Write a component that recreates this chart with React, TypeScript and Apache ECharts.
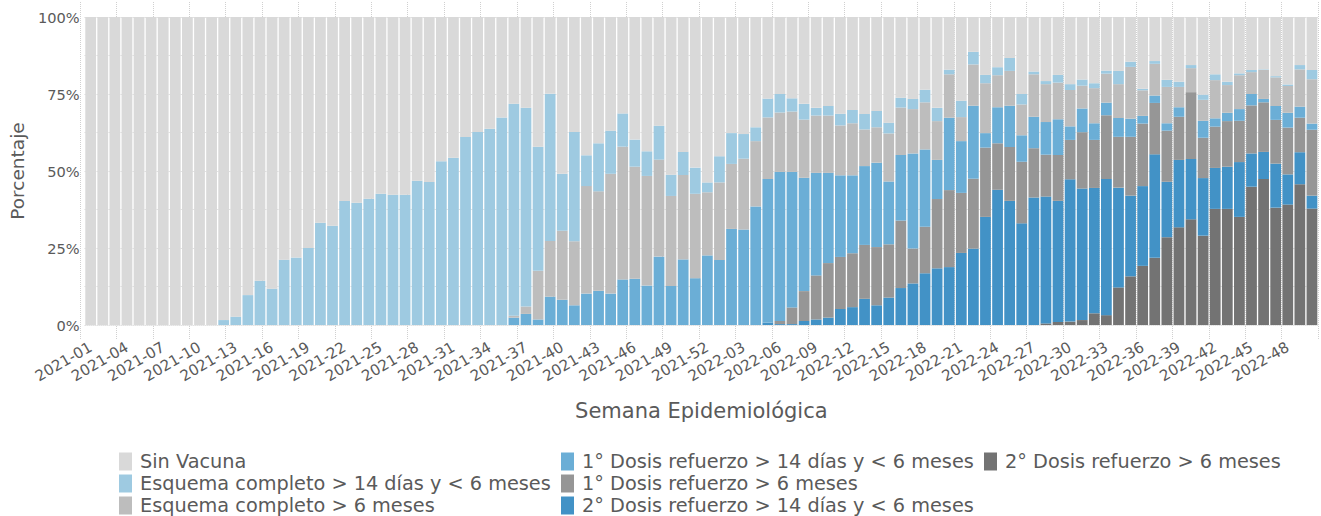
import React, { useEffect, useRef } from "react";
import * as echarts from "echarts";

const weeks = [
  "2021-01","2021-02","2021-03","2021-04","2021-05","2021-06","2021-07","2021-08","2021-09","2021-10",
  "2021-11","2021-12","2021-13","2021-14","2021-15","2021-16","2021-17","2021-18","2021-19","2021-20",
  "2021-21","2021-22","2021-23","2021-24","2021-25","2021-26","2021-27","2021-28","2021-29","2021-30",
  "2021-31","2021-32","2021-33","2021-34","2021-35","2021-36","2021-37","2021-38","2021-39","2021-40",
  "2021-41","2021-42","2021-43","2021-44","2021-45","2021-46","2021-47","2021-48","2021-49","2021-50",
  "2021-51","2021-52",
  "2022-01","2022-02","2022-03","2022-04","2022-05","2022-06","2022-07","2022-08","2022-09","2022-10",
  "2022-11","2022-12","2022-13","2022-14","2022-15","2022-16","2022-17","2022-18","2022-19","2022-20",
  "2022-21","2022-22","2022-23","2022-24","2022-25","2022-26","2022-27","2022-28","2022-29","2022-30",
  "2022-31","2022-32","2022-33","2022-34","2022-35","2022-36","2022-37","2022-38","2022-39","2022-40",
  "2022-41","2022-42","2022-43","2022-44","2022-45","2022-46","2022-47","2022-48","2022-49","2022-50",
];

const sinVacuna = [
  100,100,100,100,100,100,100,100,100,100,
  100,98.4,97.3,90.3,85.6,88.2,78.8,78.1,75.0,66.8,
  67.8,59.7,60.3,59.0,57.4,57.7,57.7,53.2,53.6,46.8,
  45.7,39.0,37.3,36.3,32.6,28.2,29.5,42.1,24.9,50.9,
  37.3,44.9,41.0,36.9,31.3,39.8,43.6,35.3,51.2,43.8,
  48.9,53.7,45.2,37.7,38.0,35.8,26.5,25.0,26.4,28.2,
  29.5,28.9,31.4,30.2,31.5,30.5,34.3,26.2,26.6,23.6,
  29.5,17.1,27.2,11.3,18.8,16.3,13.3,25.0,17.7,20.8,
  18.8,21.8,20.3,21.5,17.4,17.5,14.5,23.3,14.3,20.4,
  21.0,15.6,25.2,18.6,21.0,18.3,17.2,17.0,19.2,21.9,
  15.6,17.2,
];

const esquema14 = [
  0,0,0,0,0,0,0,0,0,0,
  0,1.6,2.7,9.7,14.4,11.8,21.2,21.9,25.0,33.2,
  32.2,40.3,39.7,41.0,42.6,42.3,42.3,46.8,46.4,53.2,
  54.3,61.0,62.7,63.7,67.4,68.8,64.5,40.3,47.8,18.5,
  35.5,10.0,15.6,14.0,10.8,8.8,8.0,11.0,6.9,7.5,
  8.5,3.2,8.5,10.0,8.0,4.5,6.1,6.0,4.3,5.1,
  2.5,3.1,3.8,4.3,5.0,5.3,3.5,3.2,3.3,4.1,
  4.3,1.5,5.3,4.1,2.7,2.6,4.2,3.4,0.9,1.0,
  2.5,1.9,2.0,1.6,1.0,4.3,1.7,0.5,0.9,2.3,
  1.7,1.0,1.7,1.9,1.1,0.6,0.7,0.2,0.4,0.5,
  1.4,3.0,
];

const esquema6 = [
  0,0,0,0,0,0,0,0,0,0,
  0,0,0,0,0,0,0,0,0,0,
  0,0,0,0,0,0,0,0,0,0,
  0,0,0,0,0,0.6,2.4,15.8,18.1,22.4,
  20.8,34.9,32.3,38.9,43.1,36.4,35.6,31.5,29.2,27.4,
  27.4,20.5,25.2,21.1,23.0,21.2,20.0,19.3,19.6,18.9,
  18.6,18.6,16.2,16.9,11.9,11.5,15.6,15.4,14.4,15.3,
  12.6,14.1,7.8,13.4,16.2,10.4,11.3,10.0,13.8,12.3,
  11.9,11.8,7.4,11.4,9.4,11.0,16.8,8.3,10.3,11.8,
  6.6,7.8,6.8,12.4,9.0,11.0,7.1,9.4,9.3,8.7,
  12.1,14.4,
];

const refuerzo1Menos6 = [
  0,0,0,0,0,0,0,0,0,0,
  0,0,0,0,0,0,0,0,0,0,
  0,0,0,0,0,0,0,0,0,0,
  0,0,0,0,0,2.4,3.6,1.8,9.2,8.2,
  6.4,10.2,11.1,10.2,14.8,15.0,12.8,22.2,12.7,21.3,
  15.2,22.6,21.1,31.2,31.0,38.5,46.6,48.4,44.0,36.8,
  33.3,29.3,26.5,25.3,25.6,27.4,20.4,21.3,30.9,25.1,
  12.7,23.5,16.8,23.7,4.7,11.7,13.4,8.6,10.2,10.6,
  11.6,4.4,7.7,5.4,4.1,6.1,5.9,2.5,2.4,2.4,
  3.1,0,5.5,2.7,2.7,3.8,3.7,1.1,4.5,4.8,
  3.6,2.0,
];

const refuerzo1Mas6 = [
  0,0,0,0,0,0,0,0,0,0,
  0,0,0,0,0,0,0,0,0,0,
  0,0,0,0,0,0,0,0,0,0,
  0,0,0,0,0,0,0,0,0,0,
  0,0,0,0,0,0,0,0,0,0,
  0,0,0,0,0,0,0,1.0,5.4,9.7,
  14.3,17.7,16.9,17.5,17.5,18.9,17.3,21.9,11.3,15.1,
  22.5,25.0,19.5,22.7,22.5,15.1,17.5,20.0,16.0,13.6,
  14.9,12.8,18.3,15.6,20.7,16.5,19.1,20.3,16.7,16.6,
  14.0,21.7,13.1,13.4,14.8,13.4,15.6,16.1,14.2,15.2,
  11.2,21.4,
];

const refuerzo2Menos6 = [
  0,0,0,0,0,0,0,0,0,0,
  0,0,0,0,0,0,0,0,0,0,
  0,0,0,0,0,0,0,0,0,0,
  0,0,0,0,0,0,0,0,0,0,
  0,0,0,0,0,0,0,0,0,0,
  0,0,0,0,0,0,0.8,0.3,0.3,1.3,
  1.8,2.4,5.2,5.8,8.5,6.4,8.9,12.0,13.5,16.8,
  18.4,18.8,23.4,24.8,35.1,43.9,40.3,33.0,41.4,41.2,
  39.3,46.2,42.7,40.7,44.2,32.4,26.2,25.9,33.6,18.0,
  21.9,19.6,18.7,13.3,13.7,17.8,10.8,8.8,14.3,9.8,
  10.4,4.2,
];

const refuerzo2Mas6 = [
  0,0,0,0,0,0,0,0,0,0,
  0,0,0,0,0,0,0,0,0,0,
  0,0,0,0,0,0,0,0,0,0,
  0,0,0,0,0,0,0,0,0,0,
  0,0,0,0,0,0,0,0,0,0,
  0,0,0,0,0,0,0,0,0,0,
  0,0,0,0,0,0,0,0,0,0,
  0,0,0,0,0,0,0,0,0,0.5,
  1.0,1.1,1.6,3.8,3.2,12.2,15.8,19.2,21.8,28.5,
  31.7,34.3,29.0,37.7,37.7,35.1,44.9,47.4,38.1,39.1,
  45.7,37.8,
];

const N_SIN = "Sin Vacuna";
const N_E14 = "Esquema completo > 14 días y < 6 meses";
const N_E6 = "Esquema completo > 6 meses";
const N_R1A = "1° Dosis refuerzo > 14 días y < 6 meses";
const N_R1B = "1° Dosis refuerzo > 6 meses";
const N_R2A = "2° Dosis refuerzo > 14 días y < 6 meses";
const N_R2B = "2° Dosis refuerzo > 6 meses";

const stackOrder = [
  { name: N_R2B, data: refuerzo2Mas6, color: "#737373" },
  { name: N_R2A, data: refuerzo2Menos6, color: "#4292c6" },
  { name: N_R1B, data: refuerzo1Mas6, color: "#969696" },
  { name: N_R1A, data: refuerzo1Menos6, color: "#6baed6" },
  { name: N_E6, data: esquema6, color: "#bdbdbd" },
  { name: N_E14, data: esquema14, color: "#9ecae1" },
  { name: N_SIN, data: sinVacuna, color: "#d9d9d9" },
];

export default function App() {
  const ref = useRef<HTMLDivElement>(null);

  useEffect(() => {
    if (!ref.current) return;
    const chart = echarts.init(ref.current, null, { renderer: "svg" });
    const font = "'DejaVu Sans', Verdana, sans-serif";
    const txt = "#5a5a5a";
    const dotted = { color: "#d0d0d0", type: "dotted" as const, width: 1 };

    const legendBase = {
      orient: "vertical" as const,
      top: 452,
      itemWidth: 13,
      itemHeight: 18,
      itemGap: 3,
      padding: 0,
      icon: "rect",
      selectedMode: false,
      textStyle: {
        fontSize: 19.3,
        lineHeight: 18,
        color: txt,
        fontFamily: font,
        padding: [0, 0, 0, 3],
      },
    };

    chart.setOption({
      animation: false,
      backgroundColor: "#ffffff",
      textStyle: { fontFamily: font },
      grid: [
        { left: 80, right: 3, top: 17, height: 308, containLabel: false },
        { left: 80, right: 3, top: 2, height: 338, containLabel: false },
      ],
      legend: [
        { ...legendBase, left: 119, data: [N_SIN, N_E14, N_E6] },
        { ...legendBase, left: 561, data: [N_R1A, N_R1B, N_R2A] },
        { ...legendBase, left: 984, data: [N_R2B] },
      ],
      xAxis: [
        {
          type: "category",
          gridIndex: 0,
          data: weeks,
          axisLine: { show: false },
          axisTick: { show: false },
          splitLine: { show: false },
          axisLabel: {
            interval: 2,
            rotate: 30,
            fontSize: 15,
            color: txt,
            fontFamily: font,
            margin: 21,
          },
          name: "Semana Epidemiológica",
          nameLocation: "middle",
          nameGap: 75,
          nameTextStyle: { fontSize: 21, color: txt, fontFamily: font },
        },
        {
          type: "category",
          gridIndex: 1,
          data: weeks,
          axisLine: { show: false },
          axisTick: { show: false },
          axisLabel: { show: false },
          splitLine: { show: true, interval: 2, lineStyle: dotted },
        },
      ],
      yAxis: [
        {
          type: "value",
          gridIndex: 0,
          min: 0,
          max: 100,
          interval: 12.5,
          axisLine: { show: false },
          axisTick: { show: false },
          splitLine: { show: true, lineStyle: dotted },
          axisLabel: {
            formatter: (v: number) => (v % 25 === 0 ? `${v}%` : ""),
            fontSize: 14.6,
            color: txt,
            fontFamily: font,
            margin: 5,
          },
          name: "Porcentaje",
          nameLocation: "middle",
          nameRotate: 90,
          nameGap: 55,
          nameTextStyle: { fontSize: 18.5, color: txt, fontFamily: font },
        },
        {
          type: "value",
          gridIndex: 1,
          min: 0,
          max: 1,
          show: false,
        },
      ],
      series: stackOrder.map((s) => ({
        name: s.name,
        type: "bar",
        stack: "total",
        xAxisIndex: 0,
        yAxisIndex: 0,
        barCategoryGap: "11%",
        data: s.data,
        itemStyle: { color: s.color },
        emphasis: { disabled: true },
      })),
    });

    return () => chart.dispose();
  }, []);

  return (
    <div
      ref={ref}
      style={{ position: "fixed", left: 0, top: 0, width: 1321, height: 516 }}
    />
  );
}
